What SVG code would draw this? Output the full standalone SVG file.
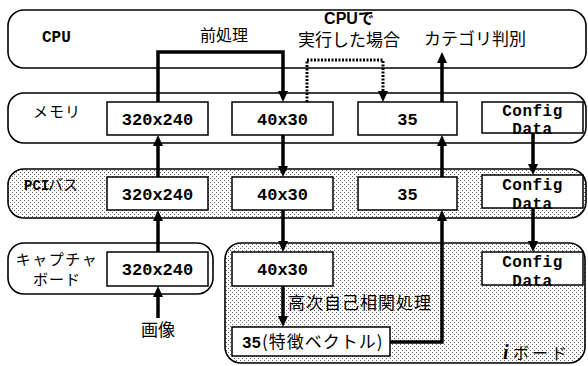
<svg xmlns="http://www.w3.org/2000/svg" width="588" height="366" viewBox="0 0 588 366">
<defs>
<pattern id="dots" width="4" height="4" patternUnits="userSpaceOnUse">
<rect width="4" height="4" fill="#fff"/>
<rect x="0" y="0" width="1" height="1" fill="#666"/>
<rect x="2" y="2" width="1" height="1" fill="#666"/>
</pattern>
<marker id="ah" markerUnits="userSpaceOnUse" markerWidth="12" markerHeight="10" refX="7" refY="5" orient="auto">
<path d="M0,0 L11,5 L0,10 Z" fill="#000"/>
</marker>
</defs>
<style>
.outer{fill:#fff;stroke:#000;stroke-width:1.6}
.dot{fill:url(#dots);stroke:#000;stroke-width:1.6}
.box{fill:#fff;stroke:#000;stroke-width:1.5}
.mono{font-family:"Liberation Mono",monospace;font-weight:bold;font-size:17px;fill:#000}
.cfg{font-family:"Liberation Mono",monospace;font-weight:bold;font-size:16px;fill:#000}
.jp{font-family:"Noto Sans CJK JP",sans-serif;fill:#000}
.arr{fill:none;stroke:#000;stroke-width:3.5;marker-end:url(#ah)}
.dash{fill:none;stroke:#000;stroke-width:3;stroke-dasharray:2 1.5;marker-end:url(#ah)}
</style>
<rect width="588" height="366" fill="#fff"/>

<g id="cpu">
<rect class="outer" x="8" y="10" width="578" height="58" rx="16"/>
<text x="42" y="42" style="font-family:'Liberation Mono',monospace;font-weight:bold;font-size:16px">CPU</text>
<text class="jp" x="224" y="41" font-size="16" text-anchor="middle">前処理</text>
<text x="349" y="24" text-anchor="middle" style="font-family:'Liberation Sans','Noto Sans CJK JP',sans-serif;font-weight:bold;font-size:16px">CPUで</text>
<text class="jp" x="349" y="46" font-size="17" text-anchor="middle">実行した場合</text>
<text class="jp" x="475" y="45" font-size="17" text-anchor="middle">カテゴリ判別</text>
</g>

<g id="memory">
<rect class="outer" x="8" y="93" width="578" height="50" rx="16"/>
<text class="jp" x="57" y="117" font-size="15" text-anchor="middle" letter-spacing="1">メモリ</text>
<rect class="box" x="107" y="102" width="101" height="33"/>
<text class="mono" x="157.5" y="125" text-anchor="middle">320x240</text>
<rect class="box" x="232" y="102" width="101" height="33"/>
<text class="mono" x="282.5" y="125" text-anchor="middle">40x30</text>
<rect class="box" x="358" y="102" width="99" height="33"/>
<text class="mono" x="407.5" y="125" text-anchor="middle">35</text>
<rect class="box" x="482" y="102" width="101" height="31"/>
<text class="cfg" x="532.5" y="116" text-anchor="middle" letter-spacing="0.5">Config</text>
<text class="cfg" x="532.5" y="134" text-anchor="middle" letter-spacing="0.5">Data</text>
</g>

<g id="pci">
<rect class="dot" x="8" y="169" width="578" height="49" rx="16"/>
<text x="24" y="190" style="font-family:'Liberation Mono',monospace;font-weight:bold;font-size:14px">PCI</text>
<text class="jp" x="48" y="190" font-size="15">バス</text>
<rect class="box" x="107" y="177" width="101" height="33"/>
<text class="mono" x="157.5" y="200" text-anchor="middle">320x240</text>
<rect class="box" x="232" y="177" width="101" height="33"/>
<text class="mono" x="282.5" y="200" text-anchor="middle">40x30</text>
<rect class="box" x="358" y="177" width="99" height="33"/>
<text class="mono" x="407.5" y="200" text-anchor="middle">35</text>
<rect class="box" x="482" y="175" width="101" height="33"/>
<text class="cfg" x="532.5" y="190" text-anchor="middle" letter-spacing="0.5">Config</text>
<text class="cfg" x="532.5" y="209" text-anchor="middle" letter-spacing="0.5">Data</text>
</g>

<g id="capture">
<rect class="outer" x="8" y="243" width="205" height="51" rx="16"/>
<text class="jp" x="57" y="265" font-size="15" text-anchor="middle" letter-spacing="1.5">キャプチャ</text>
<text class="jp" x="57" y="285" font-size="15" text-anchor="middle" letter-spacing="1">ボード</text>
<rect class="box" x="107" y="252" width="101" height="34"/>
<text class="mono" x="157.5" y="275" text-anchor="middle">320x240</text>
</g>

<g id="iboard">
<rect class="dot" x="225" y="243" width="360" height="120" rx="16"/>
<rect class="box" x="232" y="252" width="101" height="34"/>
<text class="mono" x="282.5" y="275" text-anchor="middle">40x30</text>
<rect class="box" x="232" y="327" width="158" height="29"/>
<text x="242" y="348" style="font-family:'Liberation Mono',monospace;font-weight:bold;font-size:16px">35</text>
<text class="jp" x="262" y="348" font-size="17" letter-spacing="1">(特徴ベクトル)</text>
<rect class="box" x="482" y="252" width="101" height="33"/>
<text class="cfg" x="532.5" y="267" text-anchor="middle" letter-spacing="0.5">Config</text>
<text class="cfg" x="532.5" y="286" text-anchor="middle" letter-spacing="0.5">Data</text>
<text class="jp" x="288" y="309" font-size="17" letter-spacing="1">高次自己相関処理</text>
<text x="503" y="359" style="font-family:'Liberation Serif',serif;font-weight:bold;font-style:italic;font-size:20px">i</text>
<text class="jp" x="513" y="359" font-size="16" letter-spacing="3">ボード</text>
</g>

<g id="image-label">
<text class="jp" x="158" y="336" font-size="17" text-anchor="middle">画像</text>
</g>

<g id="connectors">
<path class="arr" d="M158,102 V52 H283 V98"/>
<path class="dash" d="M307,102 V60 H383 V98"/>
<path class="arr" d="M442,102 V56"/>
<path class="arr" d="M158,177 V139"/>
<path class="arr" d="M283,135 V173"/>
<path class="arr" d="M442,177 V139"/>
<path class="arr" d="M533,133 V171"/>
<path class="arr" d="M158,252 V214"/>
<path class="arr" d="M283,210 V248"/>
<path class="arr" d="M533,208 V248"/>
<path class="arr" d="M283,286 V323"/>
<path class="arr" d="M390,342 H442 V214"/>
<path class="arr" d="M158,318 V290"/>
</g>
</svg>
